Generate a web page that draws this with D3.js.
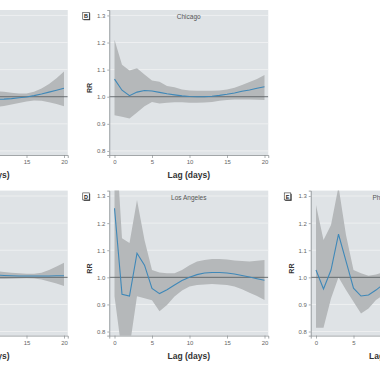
<!DOCTYPE html>
<html>
    <head>
        <script src="https://d3js.org/d3.v7.min.js"></script>
        <style>
            body { margin: 0; background: #fff; }
            text { font-family: "Liberation Sans Narrow", "Liberation Sans", Arial, sans-serif; }
        </style>
    </head>
    <body>
        <svg height='380' width='380'></svg>

        <script>
            // lag days shared by every panel
            const lags = [0,1,2,3,4,5,6,7,8,9,10,11,12,13,14,15,16,17,18,19,20];

            // panel A (mostly cut off on the left)
            const aRR = [1.03,1.02,1.01,1.0,0.995,0.993,0.99,0.99,0.99,0.99,0.99,0.99,0.991,0.993,0.996,0.999,1.004,1.01,1.017,1.024,1.031];
            const aHi = [1.09,1.07,1.06,1.05,1.045,1.04,1.035,1.03,1.028,1.025,1.022,1.02,1.018,1.015,1.012,1.012,1.018,1.03,1.047,1.068,1.093];
            const aLo = [0.97,0.97,0.965,0.96,0.958,0.956,0.955,0.956,0.958,0.96,0.962,0.963,0.966,0.971,0.977,0.982,0.986,0.985,0.98,0.973,0.965];

            // panel B Chicago
            const chiRR = [1.065,1.024,1.004,1.017,1.023,1.021,1.016,1.011,1.007,1.003,1.001,1.0,1.0,1.002,1.005,1.009,1.014,1.02,1.025,1.031,1.037];
            const chiHi = [1.21,1.118,1.097,1.105,1.082,1.06,1.055,1.04,1.035,1.027,1.023,1.022,1.022,1.022,1.023,1.027,1.033,1.043,1.054,1.065,1.08];
            const chiLo = [0.932,0.926,0.92,0.942,0.965,0.981,0.975,0.978,0.98,0.98,0.978,0.978,0.979,0.981,0.985,0.988,0.99,0.99,0.99,0.989,0.988];

            // panel C (mostly cut off on the left)
            const cRR = [1.02,1.015,1.012,1.01,1.01,1.009,1.009,1.008,1.008,1.008,1.008,1.008,1.007,1.006,1.005,1.005,1.005,1.005,1.005,1.006,1.006];
            const cHi = [1.07,1.06,1.05,1.045,1.04,1.037,1.034,1.031,1.028,1.026,1.024,1.022,1.02,1.017,1.015,1.013,1.013,1.017,1.027,1.04,1.054];
            const cLo = [0.97,0.975,0.978,0.98,0.982,0.984,0.986,0.988,0.99,0.991,0.992,0.993,0.994,0.995,0.996,0.997,0.996,0.992,0.985,0.977,0.968];

            // panel D Los Angeles
            const laRR = [1.255,0.937,0.931,1.089,1.045,0.959,0.94,0.954,0.972,0.988,1.0,1.01,1.016,1.018,1.018,1.016,1.012,1.007,1.001,0.995,0.989];
            const laHi = [1.6,1.144,1.127,1.285,1.138,1.027,1.018,1.015,1.015,1.027,1.045,1.058,1.064,1.068,1.068,1.066,1.062,1.06,1.058,1.061,1.064];
            const laLo = [0.93,0.72,0.74,0.93,0.923,0.915,0.875,0.898,0.929,0.951,0.966,0.972,0.974,0.975,0.974,0.972,0.966,0.956,0.943,0.931,0.916];

            // panel E Philadelphia (cut off on the right)
            const phRR = [1.027,0.957,1.027,1.159,1.06,0.96,0.931,0.935,0.953,0.975,0.99,1.0,1.005,1.008,1.008,1.006,1.003,1.0,0.998,0.996,0.995];
            const phHi = [1.267,1.138,1.193,1.335,1.156,1.027,1.015,1.006,1.01,1.02,1.03,1.04,1.045,1.048,1.05,1.05,1.05,1.052,1.056,1.062,1.07];
            const phLo = [0.814,0.814,0.922,1.0,0.953,0.91,0.867,0.885,0.916,0.935,0.95,0.96,0.965,0.968,0.967,0.963,0.958,0.951,0.943,0.935,0.925];

            const yTicks = [0.8,0.9,1.0,1.1,1.2,1.3];
            const xTicks = [0,5,10,15,20];

            const panels = [
                { letter:'A', title:'', col:0, row:0, rr:aRR, hi:aHi, lo:aLo },
                { letter:'B', title:'Chicago', col:1, row:0, rr:chiRR, hi:chiHi, lo:chiLo },
                { letter:'C', title:'', col:0, row:1, rr:cRR, hi:cHi, lo:cLo },
                { letter:'D', title:'Los Angeles', col:1, row:1, rr:laRR, hi:laHi, lo:laLo },
                { letter:'E', title:'Philadelphia', col:2, row:1, rr:phRR, hi:phHi, lo:phLo }
            ];

            const svg = d3.select('svg');
            const colX0 = [-86, 114.5, 316];   // pixel position of lag 0
            const rowTop = [10, 190.6];
            const plotH = 145;

            const drawPanel = (p, i) => {
                const x0 = colX0[p.col];
                const top = rowTop[p.row];
                const x = d3.scaleLinear().domain([-0.7, 20.5]).range([x0 - 5.25, x0 + 153.75]);
                const y = d3.scaleLinear().domain([0.785, 1.32]).range([top + plotH, top]);
                const left = x.range()[0], right = x.range()[1];

                const g = svg.append('g');

                g.append('clipPath').attr('id', 'clip' + i)
                    .append('rect')
                    .attr('x', left).attr('y', top)
                    .attr('width', right - left).attr('height', plotH);

                g.append('rect')
                    .attr('x', left).attr('y', top)
                    .attr('width', right - left).attr('height', plotH)
                    .attr('fill', '#dfe3e6');

                g.selectAll('.grid').data(yTicks.filter(d => d !== 1.0))
                    .enter().append('line')
                    .attr('x1', left).attr('x2', right)
                    .attr('y1', d => y(d)).attr('y2', d => y(d))
                    .attr('stroke', '#f1f3f4').attr('stroke-width', 0.8);

                const rows = lags.map((d, k) => ({ lag: d, rr: p.rr[k], hi: p.hi[k], lo: p.lo[k] }));

                const inner = g.append('g').attr('clip-path', `url(#clip${i})`);

                inner.append('path')
                    .datum(rows)
                    .attr('fill', '#b5b8ba')
                    .attr('d', d3.area().x(d => x(d.lag)).y0(d => y(d.lo)).y1(d => y(d.hi)));

                inner.append('line')
                    .attr('x1', left).attr('x2', right)
                    .attr('y1', y(1)).attr('y2', y(1))
                    .attr('stroke', '#5d6265').attr('stroke-width', 0.9);

                inner.append('path')
                    .datum(rows)
                    .attr('fill', 'none')
                    .attr('stroke', '#3f88b8')
                    .attr('stroke-width', 1.1)
                    .attr('d', d3.line().x(d => x(d.lag)).y(d => y(d.rr)));

                const yAxis = g.append('g')
                    .attr('transform', `translate(${left},0)`)
                    .call(d3.axisLeft(y).tickValues(yTicks).tickSize(2).tickPadding(2).tickFormat(d3.format('.1f')));
                const xAxis = g.append('g')
                    .attr('transform', `translate(0,${top + plotH})`)
                    .call(d3.axisBottom(x).tickValues(xTicks).tickSize(3).tickPadding(2));

                [yAxis, xAxis].forEach(a => {
                    a.select('.domain').attr('stroke', '#8a8f92').attr('stroke-width', 0.8);
                    a.selectAll('.tick line').attr('stroke', '#8a8f92').attr('stroke-width', 0.7);
                    a.selectAll('.tick text').attr('fill', '#666').style('font-size', '6px')
                        .style('font-family', '"Liberation Sans Narrow", "Liberation Sans", Arial, sans-serif');
                });

                g.append('text')
                    .attr('x', (left + right) / 2).attr('y', top + plotH + 23)
                    .attr('text-anchor', 'middle')
                    .attr('font-weight', 'bold').attr('font-size', 8.5).attr('fill', '#333')
                    .text('Lag (days)');

                g.append('text')
                    .attr('transform', `translate(${left - 17},${top + 78}) rotate(-90)`)
                    .attr('text-anchor', 'middle')
                    .attr('font-weight', 'bold').attr('font-size', 7).attr('fill', '#333')
                    .text('RR');

                if (p.title) {
                    g.append('text')
                        .attr('x', (left + right) / 2).attr('y', top + 9)
                        .attr('text-anchor', 'middle')
                        .attr('font-size', 6.5).attr('fill', '#555')
                        .text(p.title);
                }

                // boxed panel letter with a little drop shadow
                const bx = left - 26.5, by = top + 2.3;
                g.append('rect').attr('x', bx + 0.9).attr('y', by + 0.9).attr('width', 6.5).attr('height', 7)
                    .attr('fill', '#333');
                g.append('rect').attr('x', bx).attr('y', by).attr('width', 6.5).attr('height', 7)
                    .attr('fill', '#fff').attr('stroke', '#333').attr('stroke-width', 0.6);
                g.append('text')
                    .attr('x', bx + 3.25).attr('y', by + 5.6)
                    .attr('text-anchor', 'middle')
                    .attr('font-weight', 'bold').attr('font-size', 5.5).attr('fill', '#222')
                    .text(p.letter);
            };

            panels.forEach(drawPanel);
        </script>
    </body>
</html>
